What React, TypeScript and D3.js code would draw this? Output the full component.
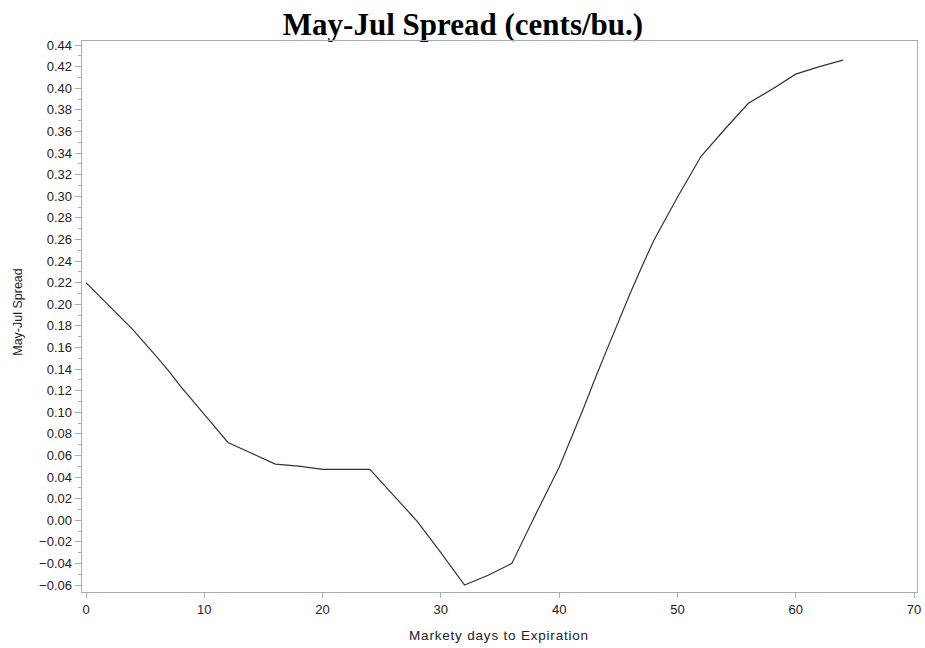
import React from "react";
import * as d3 from "d3";

const days = [0, 2, 4, 6, 7, 8, 10, 12, 14, 16, 18, 20, 22, 24, 26, 28, 30, 32, 34, 36, 38, 40, 42, 43, 44, 46, 47, 48, 50, 52, 54, 56, 58, 60, 62, 64];
const spread = [0.220, 0.198, 0.176, 0.151, 0.138, 0.124, 0.098, 0.072, 0.062, 0.052, 0.050, 0.047, 0.047, 0.047, 0.023, -0.001, -0.030, -0.060, -0.051, -0.040, 0.005, 0.049, 0.102, 0.130, 0.157, 0.210, 0.235, 0.259, 0.299, 0.337, 0.362, 0.386, 0.399, 0.413, 0.420, 0.426];
const xTicks = [0, 10, 20, 30, 40, 50, 60, 70];
const yTicks = [-0.06, -0.04, -0.02, 0.0, 0.02, 0.04, 0.06, 0.08, 0.1, 0.12, 0.14, 0.16, 0.18, 0.2, 0.22, 0.24, 0.26, 0.28, 0.3, 0.32, 0.34, 0.36, 0.38, 0.4, 0.42, 0.44];

const W = 925, H = 648;
const frame = { left: 81, right: 917, top: 40, bottom: 592 };
const axisColor = "#a8acb0";
const textColor = "#222";
const font = "'Liberation Sans', Arial, sans-serif";

export default function App() {
  const x = d3.scaleLinear().domain([0, 70]).range([86, 914]);
  const y = d3.scaleLinear().domain([-0.06, 0.44]).range([585, 45]);
  const line = d3.line<number>().x((_, i) => x(days[i])).y((d) => y(d));
  const path = line(spread) || "";
  const minor = yTicks.slice(0, -1).map((t) => t + 0.01);
  return (
    <svg width={W} height={H} style={{ position: "absolute", left: 0, top: 0, background: "#fff" }} xmlns="http://www.w3.org/2000/svg">
      <text x={463} y={35} textAnchor="middle" fontFamily="'Liberation Serif', 'Times New Roman', serif" fontWeight="bold" fontSize={31} fill="#000">May-Jul Spread (cents/bu.)</text>
      <rect x={frame.left} y={frame.top} width={frame.right - frame.left} height={frame.bottom - frame.top} fill="none" stroke={axisColor} strokeWidth={1} shapeRendering="crispEdges" />
      {yTicks.map((t) => (
        <g key={"y" + t}>
          <line x1={frame.left - 6} x2={frame.left} y1={y(t)} y2={y(t)} stroke={axisColor} shapeRendering="crispEdges" />
          <text x={72} y={y(t) + 4.5} textAnchor="end" fontFamily={font} fontSize={13} fill={textColor}>{d3.format(".2f")(t)}</text>
        </g>
      ))}
      {minor.map((t) => (
        <line key={"m" + t} x1={frame.left - 3} x2={frame.left} y1={y(t)} y2={y(t)} stroke={axisColor} shapeRendering="crispEdges" />
      ))}
      {xTicks.map((t) => (
        <g key={"x" + t}>
          <line x1={x(t)} x2={x(t)} y1={frame.bottom} y2={frame.bottom + 6} stroke={axisColor} shapeRendering="crispEdges" />
          <text x={x(t)} y={614} textAnchor="middle" fontFamily={font} fontSize={13} fill={textColor}>{t}</text>
        </g>
      ))}
      <text x={499} y={640} textAnchor="middle" fontFamily={font} fontSize={13.5} letterSpacing={0.8} fill={textColor}>Markety days to Expiration</text>
      <text transform={`translate(22, 312) rotate(-90)`} textAnchor="middle" fontFamily={font} fontSize={12.5} fill={textColor}>May-Jul Spread</text>
      <path d={path} fill="none" stroke="#333" strokeWidth={1.2} />
    </svg>
  );
}
